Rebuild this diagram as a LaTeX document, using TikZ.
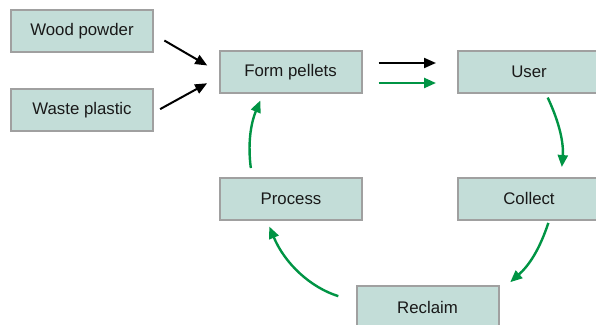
\documentclass[tikz,border=0pt]{standalone}
\usepackage{fontspec}
\setmainfont{Liberation Sans}
\usepackage{xcolor}
\usepackage{tikz}
\usetikzlibrary{arrows.meta,positioning}

\definecolor{stagefill}{RGB}{195,221,216}
\definecolor{stageline}{RGB}{160,160,160}
\definecolor{loopgreen}{RGB}{0,148,68}

\begin{document}
\begin{tikzpicture}[
  x=0.5pt, y=-0.5pt,
  stage/.style={draw=stageline, line width=1pt, fill=stagefill, minimum width=71pt, minimum height=21pt, inner sep=0pt, align=center, font=\fontsize{8.4}{10}\selectfont, text=black!90},
  feed/.style={-{Triangle[length=6pt,width=5pt]}, line width=1pt, black},
  cycle/.style={-{Triangle[length=6pt,width=5pt]}, line width=1.2pt, loopgreen}
]
\useasboundingbox (0,0) rectangle (596,325);

% boxes
\node[stage] (wood) at (82,31.5) {Wood powder};
\node[stage] (waste) at (82,110.5) {Waste plastic};
\node[stage] (form) at (290.5,72) {Form pellets};
\node[stage] (user) at (529,72) {User};
\node[stage] (collect) at (529,199) {Collect};
\node[stage] (process) at (291,199) {Process};
\node[stage] (reclaim) at (427.5,307.5) {Reclaim};

% inputs
\draw[feed, shorten <=6pt, shorten >=6.5pt] ([yshift=-1.5pt]wood.east) -- (form.west);
\draw[feed, shorten <=3.5pt, shorten >=6.5pt] ([yshift=-1pt]waste.east) -- ([yshift=-2.5pt]form.west);
\draw[feed, shorten <=8pt, shorten >=10.5pt] ([yshift=4.5pt]form.east) -- ([yshift=4.5pt]user.west);
\draw[cycle, shorten <=8pt, shorten >=10.5pt] ([yshift=-5.5pt]form.east) -- ([yshift=-5.5pt]user.west);

% recycling loop
\draw[cycle, shorten <=2pt, shorten >=5pt] ([xshift=8.5pt]user.south) to[bend left=15] ([xshift=16pt]collect.north);
\draw[cycle, shorten <=1pt, shorten >=2.5pt] ([xshift=10pt]collect.south) to[bend left=15] ([xshift=3.5pt]reclaim.north east);
\draw[cycle, shorten <=9pt, shorten >=3pt] ([yshift=3pt]reclaim.west) to[bend left=25] ([xshift=-12pt]process.south);
\draw[cycle, shorten <=4.5pt, shorten >=3.5pt] ([xshift=-19.5pt]process.north) to[bend left=15] ([xshift=-13.75pt]form.south);
\end{tikzpicture}
\end{document}
